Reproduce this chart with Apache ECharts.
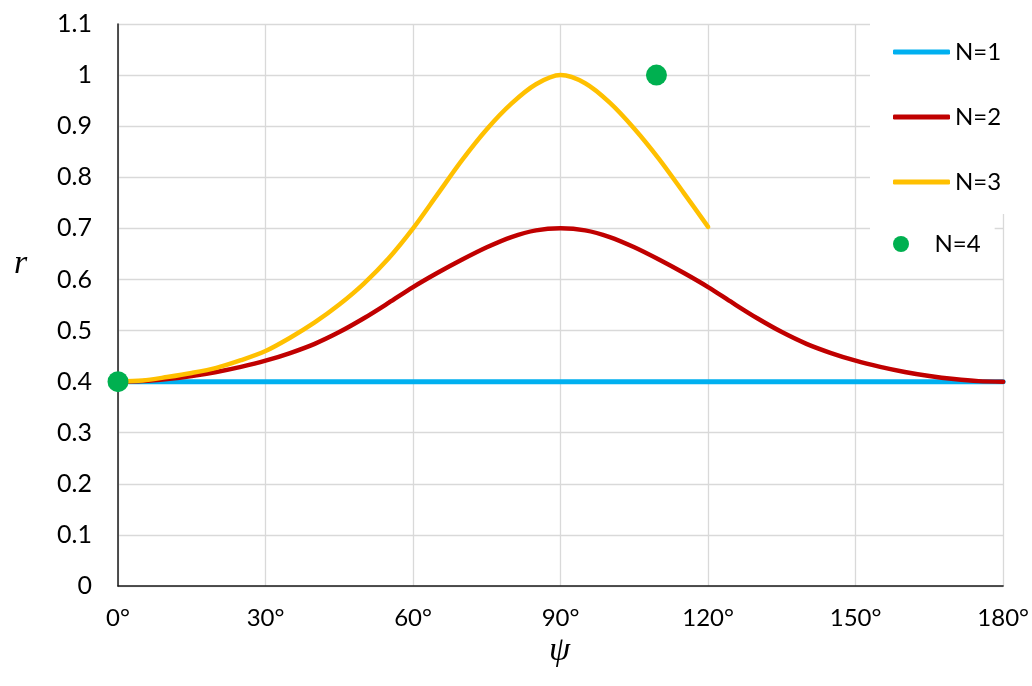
<!DOCTYPE html>
<html>
<head>
<meta charset="utf-8">
<script src="https://cdn.jsdelivr.net/npm/echarts@6/dist/echarts.min.js"></script>
<style>
html,body{margin:0;padding:0;background:#fff;}
#chart{width:1032px;height:686px;}
</style>
</head>
<body>
<div id="chart"></div>
<script>
// ---- data ----
const xTicks = [0, 30, 60, 90, 120, 150, 180];
const yTicks = [0, 0.1, 0.2, 0.3, 0.4, 0.5, 0.6, 0.7, 0.8, 0.9, 1, 1.1];

const psiN1 = [0, 180];
const rN1   = [0.4, 0.4];

const psiN2 = [0, 5, 10, 15, 20, 25, 30, 35, 40, 45, 50, 55, 60, 65, 70, 75, 80, 85, 90,
               95, 100, 105, 110, 115, 120, 125, 130, 135, 140, 145, 150, 155, 160, 165, 170, 175, 180];
const rN2   = [0.400, 0.401, 0.405, 0.411, 0.419, 0.429, 0.441, 0.456, 0.474, 0.497, 0.524, 0.554, 0.585, 0.613, 0.639, 0.663, 0.683, 0.696, 0.700,
               0.696, 0.683, 0.663, 0.639, 0.613, 0.585, 0.554, 0.524, 0.497, 0.474, 0.456, 0.441, 0.429, 0.419, 0.411, 0.405, 0.401, 0.400];

const psiN3 = [0, 5, 10, 15, 20, 25, 30, 35, 40, 45, 50, 55, 60, 65, 70, 75, 80, 85, 90,
               95, 100, 105, 110, 115, 120];
const rN3   = [0.400, 0.402, 0.409, 0.417, 0.427, 0.442, 0.460, 0.486, 0.516, 0.551, 0.592, 0.641, 0.700, 0.767, 0.834, 0.894, 0.944, 0.982, 1.000,
               0.984, 0.946, 0.895, 0.836, 0.770, 0.703];

const psiN4 = [0, 109.5];
const rN4   = [0.4, 1.0];

const seriesNames = ['N=1', 'N=2', 'N=3', 'N=4'];
const colors = ['#00B0F0', '#C00000', '#FFC000', '#00B050'];

const pairs = (xs, ys) => xs.map((x, i) => [x, ys[i]]);

const FONT = 'Lato';
const chart = echarts.init(document.getElementById('chart'), null, {renderer: 'canvas'});

const lineSeries = (name, xs, ys, color, w) => ({
  name: name,
  type: 'line',
  data: pairs(xs, ys),
  smooth: 0.3,
  symbol: 'none',
  lineStyle: {color: color, width: w, cap: 'round', join: 'round'},
  itemStyle: {color: color}
});

chart.setOption({
  animation: false,
  backgroundColor: '#fff',
  grid: {left: 118, right: 27, top: 24, bottom: 100, containLabel: false},
  xAxis: {
    type: 'value',
    min: xTicks[0], max: xTicks[xTicks.length - 1], interval: 30,
    axisLine: {show: true, onZero: false, lineStyle: {color: '#1a1a1a', width: 1.5}},
    axisTick: {show: false},
    axisLabel: {
      formatter: v => v + '°', margin: 20,
      color: '#000', fontFamily: FONT, fontSize: 24
    },
    splitLine: {show: true, lineStyle: {color: '#d9d9d9', width: 1.3}}
  },
  yAxis: {
    type: 'value',
    min: yTicks[0], max: yTicks[yTicks.length - 1], interval: 0.1,
    axisLine: {show: true, lineStyle: {color: '#1a1a1a', width: 1.5}},
    axisTick: {show: false},
    axisLabel: {
      formatter: v => String(Math.round(v * 10) / 10), margin: 26,
      color: '#000', fontFamily: FONT, fontSize: 25
    },
    splitLine: {show: true, lineStyle: {color: '#d9d9d9', width: 1.3}}
  },
  legend: [
    {
      data: seriesNames.slice(0, 3),
      orient: 'vertical',
      left: 870, top: 22,
      padding: [18, 14, 20, 23],
      backgroundColor: '#fff',
      icon: 'roundRect',
      itemWidth: 57, itemHeight: 5, itemGap: 41,
      selectedMode: false,
      textStyle: {color: '#000', fontFamily: FONT, fontSize: 24, lineHeight: 24}
    },
    {
      data: [seriesNames[3]],
      orient: 'vertical',
      left: 870, top: 214,
      padding: [18, 14, 22, 23],
      backgroundColor: '#fff',
      icon: 'circle',
      itemWidth: 57, itemHeight: 16,
      selectedMode: false,
      itemStyle: {opacity: 1},
      textStyle: {color: '#000', fontFamily: FONT, fontSize: 24, lineHeight: 24}
    }
  ],
  graphic: [
    {type: 'text', left: 14, top: 247, z: 10,
     style: {text: 'r', font: 'italic 34px "Liberation Serif"', fill: '#000'}},
    {type: 'text', left: 549, top: 634, z: 10,
     style: {text: 'ψ', font: 'italic 34px "Liberation Serif"', fill: '#000'}}
  ],
  series: [
    lineSeries(seriesNames[0], psiN1, rN1, colors[0], 5),
    lineSeries(seriesNames[1], psiN2, rN2, colors[1], 4.5),
    lineSeries(seriesNames[2], psiN3, rN3, colors[2], 4.5),
    {
      name: seriesNames[3],
      type: 'scatter',
      data: pairs(psiN4, rN4),
      symbol: 'circle',
      symbolSize: 21,
      clip: false,
      z: 5,
      itemStyle: {color: colors[3], opacity: 1}
    }
  ]
});
</script>
</body>
</html>
